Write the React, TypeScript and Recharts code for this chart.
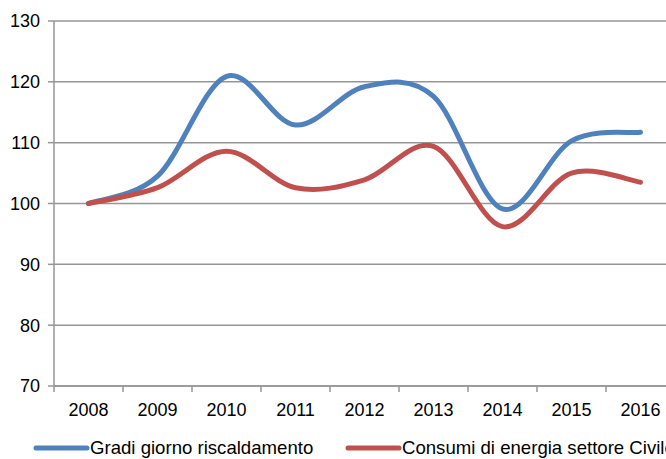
import { LineChart, Line, XAxis, YAxis, CartesianGrid, Legend } from "recharts";

const years = ["2008", "2009", "2010", "2011", "2012", "2013", "2014", "2015", "2016"];
const gradiGiorno = [100, 104.5, 120.9, 112.9, 119.2, 117.6, 99.1, 110.3, 111.7];
const consumiCivile = [100, 102.6, 108.6, 102.6, 103.9, 109.4, 96.2, 105.0, 103.5];
const yTicks = [70, 80, 90, 100, 110, 120, 130];

const BLUE = "#4f81bd";
const RED = "#c0504d";
const GRID = "#969696";
const FONT = "'Liberation Sans', Arial, sans-serif";

const data = years.map((year, i) => ({
  year,
  gradi: gradiGiorno[i],
  consumi: consumiCivile[i],
}));

// Excel-style smoothed line (Catmull-Rom through the points)
function excelSmooth(context: any) {
  let pts: number[][] = [];
  return {
    areaStart() {},
    areaEnd() {},
    lineStart() {
      pts = [];
    },
    point(x: number, y: number) {
      pts.push([+x, +y]);
    },
    lineEnd() {
      const n = pts.length;
      if (!n) return;
      context.moveTo(pts[0][0], pts[0][1]);
      for (let i = 0; i < n - 1; i++) {
        const p0 = pts[i - 1] || pts[i];
        const p1 = pts[i];
        const p2 = pts[i + 1];
        const p3 = pts[i + 2] || p2;
        context.bezierCurveTo(
          p1[0] + (p2[0] - p0[0]) / 6,
          p1[1] + (p2[1] - p0[1]) / 6,
          p2[0] - (p3[0] - p1[0]) / 6,
          p2[1] - (p3[1] - p1[1]) / 6,
          p2[0],
          p2[1]
        );
      }
    },
  };
}

// category label in the middle, tick mark on the boundary between categories
function YearTick(props: any) {
  const { x, y, payload } = props;
  const half = payload && payload.offset ? payload.offset : 34.5;
  return (
    <g>
      <line x1={x - half} y1={y - 17} x2={x - half} y2={y - 11} stroke={GRID} strokeWidth={1.5} />
      <text x={x} y={y} dy="0.71em" textAnchor="middle" fontSize={18} fill="#000" fontFamily={FONT}>
        {payload.value}
      </text>
    </g>
  );
}

const legendItems = [
  { name: "Gradi giorno riscaldamento", color: BLUE, left: 33 },
  { name: "Consumi di energia settore Civile", color: RED, left: 345 },
];

function LegendContent() {
  return (
    <div style={{ position: "relative", height: 22, width: 680 }}>
      {legendItems.map((item) => (
        <div
          key={item.name}
          style={{
            position: "absolute",
            left: item.left,
            top: 0,
            height: 22,
            display: "flex",
            alignItems: "center",
            whiteSpace: "nowrap",
          }}
        >
          <svg width={57} height={8}>
            <line x1={3} y1={4} x2={54} y2={4} stroke={item.color} strokeWidth={5} strokeLinecap="round" />
          </svg>
          <span style={{ fontSize: 18.6, fontFamily: FONT, color: "#000" }}>{item.name}</span>
        </div>
      ))}
    </div>
  );
}

export default function App() {
  return (
    <div
      style={{
        position: "absolute",
        left: 0,
        top: 0,
        width: 666,
        height: 459,
        overflow: "hidden",
        background: "#fff",
      }}
    >
      <LineChart width={680} height={459} data={data} margin={{ top: 21, right: 5, left: 0, bottom: 0 }}>
        <CartesianGrid vertical={false} stroke={GRID} strokeWidth={1.5} />
        <XAxis
          dataKey="year"
          scale="band"
          stroke={GRID}
          strokeWidth={1.5}
          tickLine={false}
          tickMargin={0}
          tickSize={17}
          height={51}
          tick={<YearTick />}
          interval={0}
        />
        <YAxis
          domain={[70, 130]}
          ticks={yTicks}
          width={54}
          stroke={GRID}
          strokeWidth={1.5}
          tickSize={6}
          tickMargin={8}
          tick={{ fontSize: 18, fill: "#000", fontFamily: FONT }}
          interval={0}
        />
        <Legend verticalAlign="bottom" content={<LegendContent />} wrapperStyle={{ left: 0, width: 680 }} />
        <Line
          type={excelSmooth as any}
          dataKey="gradi"
          name="Gradi giorno riscaldamento"
          stroke={BLUE}
          strokeWidth={5}
          strokeLinecap="round"
          dot={false}
          activeDot={false}
          isAnimationActive={false}
        />
        <Line
          type={excelSmooth as any}
          dataKey="consumi"
          name="Consumi di energia settore Civile"
          stroke={RED}
          strokeWidth={5}
          strokeLinecap="round"
          dot={false}
          activeDot={false}
          isAnimationActive={false}
        />
      </LineChart>
    </div>
  );
}
